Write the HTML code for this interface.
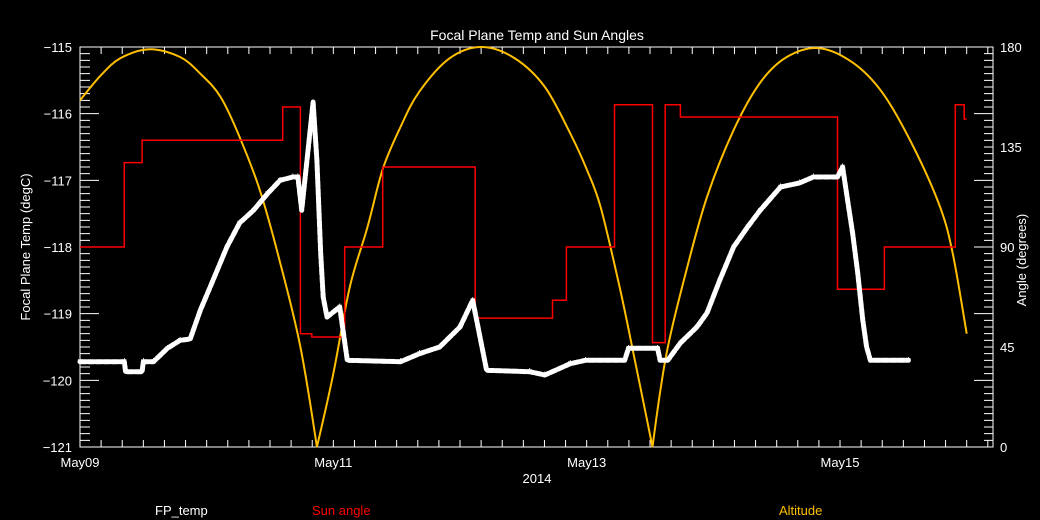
<!DOCTYPE html>
<html><head><meta charset="utf-8"><style>
html,body{margin:0;padding:0;background:#000;}
svg{display:block;font-family:"Liberation Sans",sans-serif;}
</style></head><body>
<svg id="chart" width="1040" height="520" viewBox="0 0 1040 520" xmlns="http://www.w3.org/2000/svg">
<rect x="0" y="0" width="1040" height="520" fill="#000"/>
<text x="537" y="40" fill="#fff" font-size="14" text-anchor="middle">Focal Plane Temp and Sun Angles</text>
<g id="axes"></g>
<g id="series"></g>
<text x="30" y="247" fill="#fff" font-size="13" text-anchor="middle" transform="rotate(-90 30 247)">Focal Plane Temp (degC)</text>
<text x="1026" y="260" fill="#fff" font-size="13" text-anchor="middle" transform="rotate(-90 1026 260)">Angle (degrees)</text>
<text x="537" y="483" fill="#fff" font-size="13" text-anchor="middle">2014</text>
<text x="155" y="515" fill="#fff" font-size="13">FP_temp</text>
<text x="312" y="515" fill="#ff0000" font-size="13">Sun angle</text>
<text x="779" y="515" fill="#ffbf00" font-size="13">Altitude</text>
</svg>
<script>
// data (time in days since May09 00:00)
const fpT = [0,0.35,0.36,0.49,0.50,0.58,0.69,0.79,0.87,0.95,1.05,1.16,1.26,1.37,1.48,1.58,1.68,1.72,1.75,1.84,1.87,1.90,1.92,1.95,2.05,2.11,2.53,2.68,2.84,3.00,3.10,3.21,3.55,3.67,3.87,3.99,4.30,4.33,4.56,4.58,4.64,4.74,4.87,4.95,5.05,5.16,5.27,5.37,5.53,5.68,5.79,5.98,6.02,6.06,6.10,6.14,6.18,6.21,6.24,6.54];
const fpV = [-119.72,-119.72,-119.87,-119.87,-119.72,-119.72,-119.52,-119.40,-119.38,-118.95,-118.50,-118.00,-117.64,-117.45,-117.20,-117.00,-116.95,-116.95,-117.45,-115.83,-116.70,-118.10,-118.75,-119.05,-118.90,-119.70,-119.72,-119.60,-119.50,-119.20,-118.80,-119.85,-119.87,-119.92,-119.75,-119.70,-119.70,-119.52,-119.52,-119.70,-119.70,-119.44,-119.20,-118.99,-118.50,-118.00,-117.70,-117.45,-117.10,-117.04,-116.95,-116.95,-116.80,-117.30,-117.80,-118.40,-119.10,-119.50,-119.70,-119.70];
const sunT = [0,0.35,0.49,1.60,1.74,1.83,2.09,2.39,3.12,3.73,3.84,4.22,4.52,4.62,4.74,5.98,6.35,6.91,6.98];
const sunA = [90,128,138,153,51,49.5,90,126,58,66,90,154,47,154,148.5,71,90,154,147.6];
const sunEnd = 7.00;
const altT = [0,0.16,0.32,0.55,0.79,0.95,1.11,1.26,1.42,1.58,1.74,1.87,2.00,2.13,2.27,2.39,2.53,2.68,2.92,3.17,3.43,3.67,3.88,4.00,4.11,4.26,4.37,4.52,4.63,4.79,4.95,5.16,5.37,5.58,5.83,6.10,6.34,6.58,6.79,6.89,7.00];
const altA = [156,167,175,179,175.5,168,157.5,139.5,115.5,83,45,0,33,72,99,125,144,160,175,180,175,162,140,125,108,72,42,0,42,80,112.5,142.6,164,175.5,179.5,173,159,135,108,87,51];
const leftTicks = [-115,-116,-117,-118,-119,-120,-121];
const rightTicks = [0,45,90,135,180];
const dateLabels = ["May09","May11","May13","May15"];
const dateDays = [0,2,4,6];

const X0=80,X1=993,Y0=47,Y1=447,DAYS=(X1-X0)/126.67;
const NS="http://www.w3.org/2000/svg";
const xs=t=>X0+t/DAYS*(X1-X0);
const yT=v=>Y0+(-115-v)/6*(Y1-Y0);
const yA=a=>Y1-a/180*(Y1-Y0);
function mk(tag,attrs,parent){const e=document.createElementNS(NS,tag);for(const k in attrs)e.setAttribute(k,attrs[k]);parent.appendChild(e);return e;}
const axes=document.getElementById('axes'),series=document.getElementById('series');
const frame=mk('rect',{x:X0,y:Y0,width:X1-X0,height:Y1-Y0,fill:'none',stroke:'#fff','stroke-width':1},axes);


let d='';
for(let i=0;i<=60;i++){const v=-115-i*0.1,y=yT(v),L=(i%10==0)?19:10;d+=`M${X0},${y}h${L}`;}
for(let i=0;i<=60;i++){const y=Y1-i*(Y1-Y0)/60,L=(i%10==0)?19:9;d+=`M${X1},${y}h${-L}`;}
for(let t=1/6;t<DAYS;t+=1/6){const x=xs(t);d+=`M${x},${Y1}v-7M${x},${Y0}v7`;}
const tk=mk('path',{d:d,stroke:'#fff','stroke-width':1,fill:'none'},axes);


leftTicks.forEach(v=>{const t=mk('text',{x:72,y:yT(v)+5,fill:'#fff','font-size':13,'text-anchor':'end'},axes);t.textContent=String(v).replace('-','\u2212');

});
rightTicks.forEach(v=>{const t=mk('text',{x:1000,y:yA(v)+5,fill:'#fff','font-size':13},axes);t.textContent=v;

});
dateLabels.forEach((s,i)=>{const t=mk('text',{x:xs(dateDays[i]),y:467,fill:'#fff','font-size':13,'text-anchor':'middle'},axes);t.textContent=s;

});
// altitude (smoothed catmull-rom)
const ap=altT.map((t,i)=>[xs(t),yA(altA[i])]);
let ad=`M${ap[0][0]},${ap[0][1]}`;
for(let i=0;i<ap.length-1;i++){
  const p0=ap[Math.max(0,i-1)],p1=ap[i],p2=ap[i+1],p3=ap[Math.min(ap.length-1,i+2)];
  const sharp1=altA[i]===0, sharp2=altA[i+1]===0;
  const c1=sharp1?p1:[p1[0]+(p2[0]-p0[0])/6,p1[1]+(p2[1]-p0[1])/6];
  const c2=sharp2?p2:[p2[0]-(p3[0]-p1[0])/6,p2[1]-(p3[1]-p1[1])/6];
  ad+=`C${c1[0].toFixed(1)},${c1[1].toFixed(1)} ${c2[0].toFixed(1)},${c2[1].toFixed(1)} ${p2[0].toFixed(1)},${p2[1].toFixed(1)}`;
}
const alt=mk('path',{d:ad,fill:'none',stroke:'#ffbf00','stroke-width':2},series);


// sun angle step
let sp=[];for(let i=0;i<sunT.length;i++){const nt=i<sunT.length-1?sunT[i+1]:sunEnd;sp.push(`${xs(sunT[i]).toFixed(1)},${yA(sunA[i]).toFixed(1)}`,`${xs(nt).toFixed(1)},${yA(sunA[i]).toFixed(1)}`);}
const sun=mk('polyline',{points:sp.join(' '),fill:'none',stroke:'#ff0000','stroke-width':1.5},series);


// fp temp
const p=fpT.map((t,i)=>`${xs(t).toFixed(1)},${yT(fpV[i]).toFixed(1)}`).join(' ');
const fp=mk('polyline',{points:p,fill:'none',stroke:'#fff','stroke-width':5,'stroke-linejoin':'round','stroke-linecap':'round','stroke-dasharray':'6 2'},series);


fpT.forEach((t,i)=>{const s=mk('text',{x:xs(t),y:yT(fpV[i])+5,fill:'#fff','font-size':12,'text-anchor':'middle'},series);s.textContent='*';

});
</script>
</body></html>
